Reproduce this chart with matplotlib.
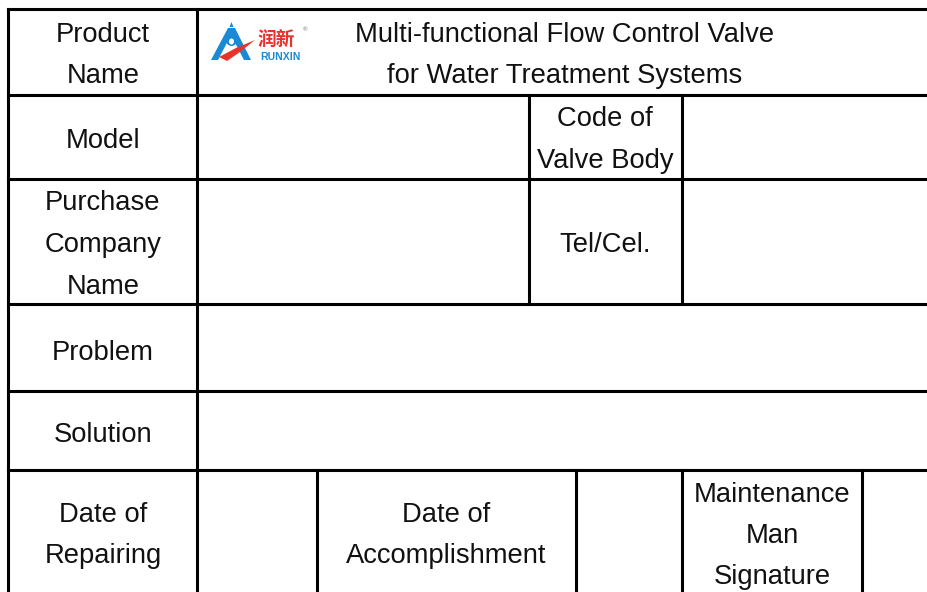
import matplotlib.pyplot as plt
from matplotlib.patches import Polygon, Ellipse

plt.rcParams['font.family'] = ['Liberation Sans', 'DejaVu Sans']

# table grid (pixel layout of the form)
row_edges = [9, 95, 179, 304, 391, 470]
left_edge = 8
label_col = 197
right_edge = 940
bottom_edge = 600

# vertical dividers: (x, y_from, y_to)
dividers = [
    (529, 95, 304),
    (682, 95, 304),
    (317, 470, bottom_edge),
    (576, 470, bottom_edge),
    (682, 470, bottom_edge),
    (862, 470, bottom_edge),
]

# cell texts: (lines, x_center, first_line_y)
cells = [
    (["Product", "Name"], 103, 32),
    (["Multi-functional Flow Control Valve", "for Water Treatment Systems"], 565, 32),
    (["Model"], 103, 138),
    (["Code of", "Valve Body"], 605, 117),
    (["Purchase", "Company", "Name"], 103, 201),
    (["Tel/Cel."], 605, 242),
    (["Problem"], 103, 350),
    (["Solution"], 103, 432),
    (["Date of", "Repairing"], 103, 512),
    (["Date of", "Accomplishment"], 446, 512),
    (["Maintenance", "Man", "Signature"], 772, 492),
]
line_step = 41.5
y_shift = 2.5

fig = plt.figure(figsize=(9.27, 5.92), dpi=100)
ax = fig.add_axes([0, 0, 1, 1])
ax.set_xlim(0, 927)
ax.set_ylim(592, 0)
ax.axis('off')

lw = 2.2
for y in row_edges:
    ax.plot([left_edge, right_edge], [y, y], color='black', lw=lw, solid_capstyle='projecting')
for x in [left_edge, label_col]:
    ax.plot([x, x], [row_edges[0], bottom_edge], color='black', lw=lw, solid_capstyle='projecting')
for x, y0, y1 in dividers:
    ax.plot([x, x], [y0, y1], color='black', lw=lw, solid_capstyle='projecting')

for lines, xc, y0 in cells:
    for i, s in enumerate(lines):
        ax.text(xc, y0 + i * line_step + y_shift, s, ha='center', va='center',
                fontsize=19.7, color='#111111')

# RUNXIN logo (simplified)
blue = '#1a8ad4'
red = '#e8332a'
ax.add_patch(Polygon([[211, 60], [228, 28], [235, 28], [251, 60], [244, 60],
                      [231, 35], [218, 60]], closed=True, color=blue, lw=0))
ax.add_patch(Ellipse((231.5, 39), 12, 14, color=blue, lw=0))
ax.add_patch(Polygon([[229.5, 27], [233.5, 27], [231.5, 22]], closed=True, color=blue, lw=0))
ax.add_patch(Ellipse((231.5, 41.5), 5, 6, color='white', lw=0))
ax.add_patch(Polygon([[219, 57], [236, 48], [255, 40], [240, 52], [227, 61]],
                     closed=True, color=red, lw=0))
ax.text(276, 40.5, '润新', ha='center', va='center', fontsize=13.5, color=red,
        family=['Noto Sans CJK SC', 'DejaVu Sans'], fontweight='bold')
ax.text(280, 57.5, 'RUNXIN', ha='center', va='center', fontsize=7.6, color=blue,
        fontweight='bold')
ax.text(305, 30, '®', ha='center', va='center', fontsize=4.5, color='#666666')

fig.savefig('out.png', dpi=100)
